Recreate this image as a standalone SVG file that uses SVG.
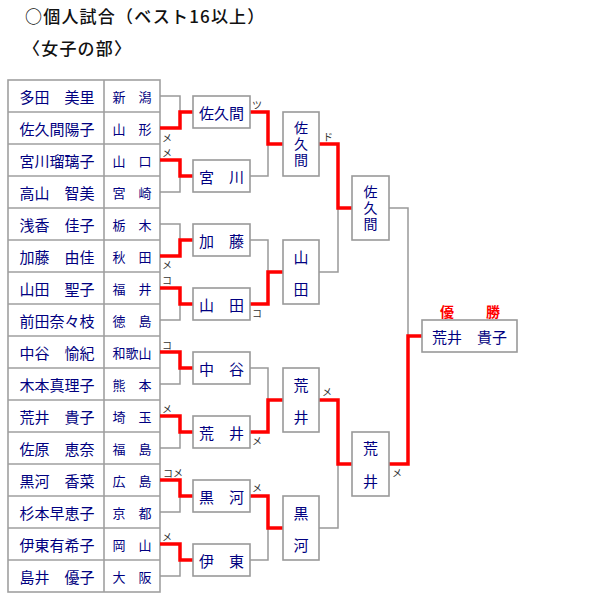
<svg xmlns="http://www.w3.org/2000/svg" width="600" height="600" viewBox="0 0 600 600">
<style>
.title{font-family:"Noto Sans CJK JP","Liberation Sans",sans-serif;font-size:17px;fill:#111;font-weight:500;letter-spacing:1.2px;}
.nm{font-family:"Noto Sans CJK JP",sans-serif;font-size:15px;fill:#000080;text-anchor:middle;dominant-baseline:central;}
.vt{font-family:"Noto Sans CJK JP",sans-serif;font-size:14px;fill:#000080;text-anchor:middle;writing-mode:vertical-rl;letter-spacing:2px;}
.pf{font-family:"Noto Sans CJK JP",sans-serif;font-size:13px;fill:#000080;text-anchor:middle;dominant-baseline:central;}
.ann{font-family:"Noto Sans CJK JP",sans-serif;font-size:10px;fill:#333;text-anchor:middle;dominant-baseline:central;}
.win{font-family:"Noto Sans CJK JP",sans-serif;font-size:14px;fill:#ff0000;font-weight:bold;text-anchor:middle;dominant-baseline:central;}
.box{fill:#fff;stroke:#999;stroke-width:1.6;}
.tl{stroke:#a0a0a0;stroke-width:1.6;fill:none;}
.g{stroke:#999;stroke-width:1.5;fill:none;}
.r{stroke:#ff0000;stroke-width:3.5;fill:none;stroke-linejoin:miter;}
</style>
<text class="title" x="25" y="23">○個人試合（ベスト16以上）</text>
<text class="title" x="23" y="55">〈女子の部〉</text>

<g id="table">
<rect x="8" y="80" width="152" height="512" fill="#fff" class="tl"/>
<line class="tl" x1="104" y1="80" x2="104" y2="592"/>
<path class="tl" d="M8,112H160M8,144H160M8,176H160M8,208H160M8,240H160M8,272H160M8,304H160M8,336H160M8,368H160M8,400H160M8,432H160M8,464H160M8,496H160M8,528H160M8,560H160"/>
<text class="nm" x="57" y="96">多田　美里</text><text class="pf" x="132" y="96">新　潟</text>
<text class="nm" x="57" y="128">佐久間陽子</text><text class="pf" x="132" y="128">山　形</text>
<text class="nm" x="57" y="160">宮川瑠璃子</text><text class="pf" x="132" y="160">山　口</text>
<text class="nm" x="57" y="192">高山　智美</text><text class="pf" x="132" y="192">宮　崎</text>
<text class="nm" x="57" y="224">浅香　佳子</text><text class="pf" x="132" y="224">栃　木</text>
<text class="nm" x="57" y="256">加藤　由佳</text><text class="pf" x="132" y="256">秋　田</text>
<text class="nm" x="57" y="288">山田　聖子</text><text class="pf" x="132" y="288">福　井</text>
<text class="nm" x="57" y="320">前田奈々枝</text><text class="pf" x="132" y="320">徳　島</text>
<text class="nm" x="57" y="352">中谷　愉紀</text><text class="pf" x="132" y="352">和歌山</text>
<text class="nm" x="57" y="384">木本真理子</text><text class="pf" x="132" y="384">熊　本</text>
<text class="nm" x="57" y="416">荒井　貴子</text><text class="pf" x="132" y="416">埼　玉</text>
<text class="nm" x="57" y="448">佐原　恵奈</text><text class="pf" x="132" y="448">福　島</text>
<text class="nm" x="57" y="480">黒河　香菜</text><text class="pf" x="132" y="480">広　島</text>
<text class="nm" x="57" y="512">杉本早恵子</text><text class="pf" x="132" y="512">京　都</text>
<text class="nm" x="57" y="544">伊東有希子</text><text class="pf" x="132" y="544">岡　山</text>
<text class="nm" x="57" y="576">島井　優子</text><text class="pf" x="132" y="576">大　阪</text>
</g>

<g id="connectors">
<path class="g" d="M160,96H180V128H160M180,112H193 M160,160H180V192H160M180,176H193 M160,224H180V256H160M180,240H193 M160,288H180V320H160M180,304H193 M160,352H180V384H160M180,368H193 M160,416H180V448H160M180,432H193 M160,480H180V512H160M180,496H193 M160,544H180V576H160M180,560H193"/>
<path class="g" d="M250,112H268V176H250M268,144H283 M250,240H268V304H250M268,272H283 M250,368H268V432H250M268,400H283 M250,496H268V560H250M268,528H283"/>
<path class="g" d="M319,144H338V272H319M338,208H352 M319,400H338V528H319M338,464H352"/>
<path class="g" d="M389,208H408V464H389M408,336H422"/>
<path class="r" d="M160,128H180V112H193 M160,160H180V176H193 M160,256H180V240H193 M160,288H180V304H193 M160,352H180V368H193 M160,416H180V432H193 M160,480H180V496H193 M160,544H180V560H193"/>
<path class="r" d="M250,112H268V144H283 M250,304H268V272H283 M250,432H268V400H283 M250,496H268V528H283"/>
<path class="r" d="M319,144H338V208H352 M319,400H338V464H352"/>
<path class="r" d="M389,464H408V336H422"/>
</g>

<g id="annotations">
<text class="ann" x="167" y="137">メ</text>
<text class="ann" x="167" y="152">メ</text>
<text class="ann" x="167" y="264">メ</text>
<text class="ann" x="167" y="279">コ</text>
<text class="ann" x="167" y="344">コ</text>
<text class="ann" x="167" y="408">メ</text>
<text class="ann" x="173" y="472">コメ</text>
<text class="ann" x="167" y="536">メ</text>
<text class="ann" x="257" y="104">ツ</text>
<text class="ann" x="257" y="312">コ</text>
<text class="ann" x="257" y="440">メ</text>
<text class="ann" x="257" y="487">メ</text>
<text class="ann" x="328" y="136">ド</text>
<text class="ann" x="327" y="391">メ</text>
<text class="ann" x="397" y="472">メ</text>
</g>

<g id="r2-1"><rect class="box" x="193" y="96" width="57" height="32"/><text class="nm" x="221.5" y="112">佐久間</text></g>
<g id="r2-2"><rect class="box" x="193" y="160" width="57" height="32"/><text class="nm" x="221.5" y="176">宮　川</text></g>
<g id="r2-3"><rect class="box" x="193" y="224" width="57" height="32"/><text class="nm" x="221.5" y="240">加　藤</text></g>
<g id="r2-4"><rect class="box" x="193" y="288" width="57" height="32"/><text class="nm" x="221.5" y="304">山　田</text></g>
<g id="r2-5"><rect class="box" x="193" y="352" width="57" height="32"/><text class="nm" x="221.5" y="368">中　谷</text></g>
<g id="r2-6"><rect class="box" x="193" y="416" width="57" height="32"/><text class="nm" x="221.5" y="432">荒　井</text></g>
<g id="r2-7"><rect class="box" x="193" y="480" width="57" height="32"/><text class="nm" x="221.5" y="496">黒　河</text></g>
<g id="r2-8"><rect class="box" x="193" y="544" width="57" height="32"/><text class="nm" x="221.5" y="560">伊　東</text></g>

<g id="r3-1"><rect class="box" x="283" y="112" width="36" height="64"/><text class="vt" x="301" y="145">佐久間</text></g>
<g id="r3-2"><rect class="box" x="283" y="240" width="36" height="64"/><text class="nm" x="301" y="256">山</text><text class="nm" x="301" y="288">田</text></g>
<g id="r3-3"><rect class="box" x="283" y="368" width="36" height="64"/><text class="nm" x="301" y="384">荒</text><text class="nm" x="301" y="416">井</text></g>
<g id="r3-4"><rect class="box" x="283" y="496" width="36" height="64"/><text class="nm" x="301" y="512">黒</text><text class="nm" x="301" y="544">河</text></g>

<g id="r4-1"><rect class="box" x="352" y="176" width="37" height="64"/><text class="vt" x="370.5" y="209">佐久間</text></g>
<g id="r4-2"><rect class="box" x="352" y="432" width="37" height="64"/><text class="nm" x="370.5" y="447">荒</text><text class="nm" x="370.5" y="480">井</text></g>

<g id="champion">
<text class="win" x="447" y="311">優</text><text class="win" x="493" y="311">勝</text>
<rect class="box" x="422" y="320" width="95" height="32"/>
<text class="nm" x="469.5" y="336">荒井　貴子</text>
</g>
</svg>
